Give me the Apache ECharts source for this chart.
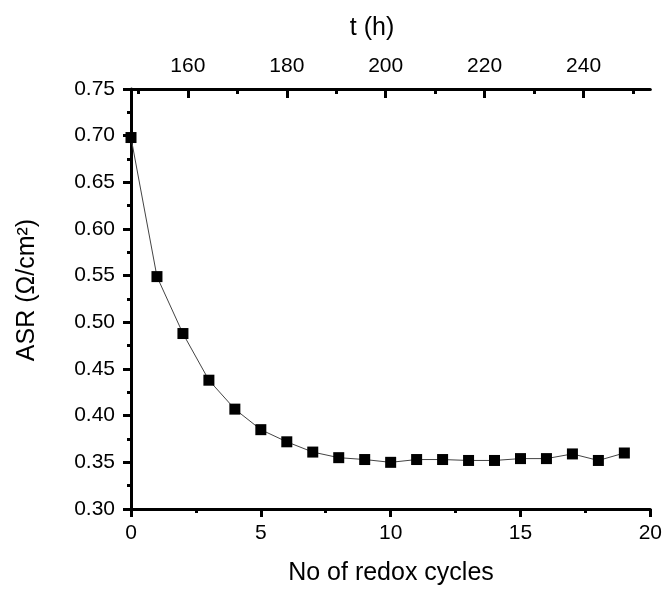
<!DOCTYPE html>
<html>
<head>
<meta charset="utf-8">
<script src="https://cdn.jsdelivr.net/npm/echarts@6/dist/echarts.min.js"></script>
<style>
  html, body { margin: 0; padding: 0; background: #fff; }
  #chart { width: 665px; height: 589px; }
</style>
</head>
<body>
<div id="chart"></div>
<script>
// Area-specific resistance over repeated redox cycles
const cycles = [0, 1, 2, 3, 4, 5, 6, 7, 8, 9, 10, 11, 12, 13, 14, 15, 16, 17, 18, 19];
const asr = [0.698, 0.549, 0.488, 0.438, 0.407, 0.385, 0.372, 0.361, 0.355, 0.353, 0.350, 0.353, 0.353, 0.352, 0.352, 0.354, 0.354, 0.359, 0.352, 0.360];
// Elapsed time scale shown along the top edge
const tMajor = [160, 180, 200, 220, 240];
const tMinor = [150, 170, 190, 210, 230, 250];
const tRange = [148.5, 253.5];

const FONT = '"Liberation Sans", Arial, sans-serif';
const BLACK3 = { color: '#000', width: 3 };

// Top-edge ticks point into the plot: an unlabeled axis shifted down by the
// tick length, with its ticks drawn back up to the frame line.
function topTickAxis(values, len) {
  return {
    type: 'value', position: 'top', min: tRange[0], max: tRange[1], offset: -len,
    axisLine: { show: false },
    axisTick: { show: true, inside: false, length: len, customValues: values, lineStyle: BLACK3 },
    axisLabel: { show: false },
    splitLine: { show: false }
  };
}

const chart = echarts.init(document.getElementById('chart'));
chart.setOption({
  backgroundColor: '#fff',
  animation: false,
  grid: { left: 131, right: 14, top: 89, bottom: 80 },
  xAxis: [
    {
      type: 'value', position: 'bottom', min: 0, max: 20, interval: 5,
      axisLine: { lineStyle: BLACK3 },
      axisTick: { show: true, inside: false, length: 8, lineStyle: BLACK3 },
      minorTick: { show: true, splitNumber: 2, length: 4, lineStyle: BLACK3 },
      axisLabel: { color: '#000', fontSize: 21, fontFamily: FONT, margin: 14 },
      splitLine: { show: false }
    },
    {
      type: 'value', position: 'top', min: tRange[0], max: tRange[1],
      axisLine: { show: true, lineStyle: BLACK3 },
      axisTick: { show: false },
      axisLabel: { color: '#000', fontSize: 21, fontFamily: FONT, margin: 12, customValues: tMajor },
      splitLine: { show: false }
    },
    topTickAxis(tMajor, 9),
    topTickAxis(tMinor, 5)
  ],
  yAxis: {
    type: 'value', min: 0.30, max: 0.75, interval: 0.05,
    axisLine: { show: true, lineStyle: BLACK3 },
    axisTick: { show: true, inside: false, length: 8, lineStyle: BLACK3 },
    minorTick: { show: true, splitNumber: 2, length: 4, lineStyle: BLACK3 },
    axisLabel: { color: '#000', fontSize: 21, fontFamily: FONT, margin: 16,
      formatter: v => v.toFixed(2) },
    splitLine: { show: false }
  },
  graphic: [
    { type: 'text', position: [372, 16],
      style: { text: 't (h)', font: '25px ' + FONT, fill: '#000', align: 'center' } },
    { type: 'text', position: [391, 561],
      style: { text: 'No of redox cycles', font: '25px ' + FONT, fill: '#000', align: 'center' } },
    { type: 'text', position: [15, 290], rotation: Math.PI / 2,
      style: { text: 'ASR (Ω/cm²)', font: '25px ' + FONT, fill: '#000', align: 'center' } }
  ],
  series: [{
    type: 'line',
    xAxisIndex: 0,
    data: cycles.map((c, i) => [c, asr[i]]),
    symbol: 'rect', symbolSize: 11,
    itemStyle: { color: '#000' },
    lineStyle: { color: '#444', width: 1 },
    z: 5
  }]
});
</script>
</body>
</html>
